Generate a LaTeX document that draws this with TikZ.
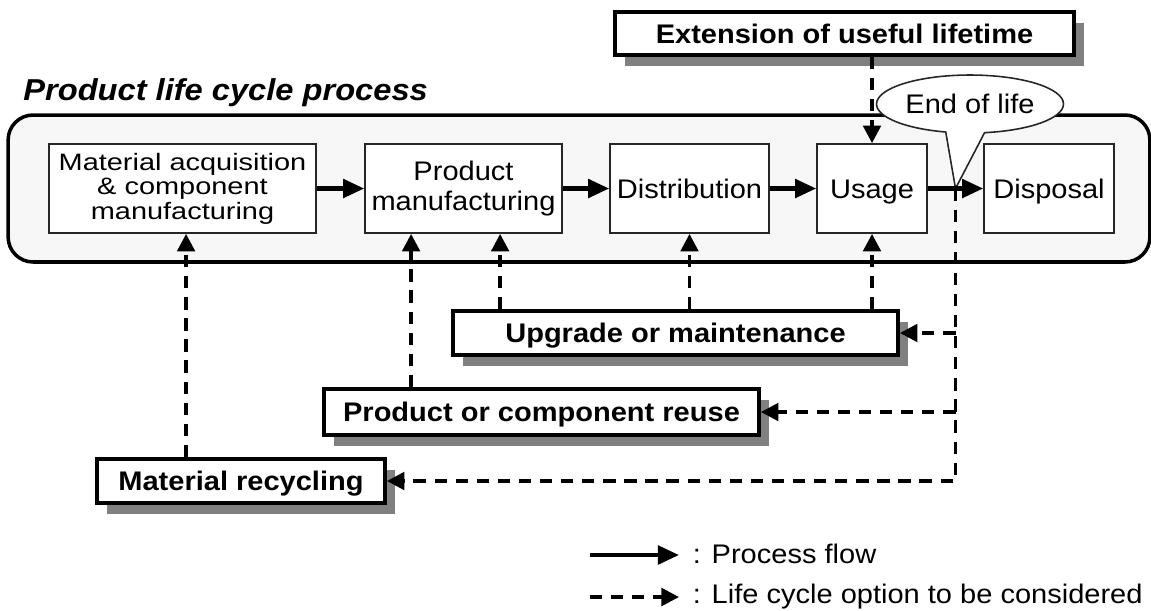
\documentclass[tikz,border=0pt]{standalone}
\usepackage{fontspec}
\setmainfont{Liberation Sans}[FakeStretch=1.08]
\newfontfamily\squeezedfont{Liberation Sans}[FakeStretch=1.22]
\usetikzlibrary{arrows.meta, shapes.callouts, shadows, calc}

\begin{document}
\begin{tikzpicture}[x=0.02cm, y=-0.02cm,
    stage/.style={draw=black!85, line width=1pt, fill=white, minimum height=1.78cm,
        inner sep=2pt, align=center, font=\fontsize{15.3}{17}\selectfont},
    oneline/.style={text height=11pt, text depth=0pt},
    option/.style={draw, line width=2.2pt, fill=white, inner sep=0pt, oneline,
        font=\fontsize{15.3}{17}\selectfont\bfseries,
        drop shadow={shadow xshift=0.2cm, shadow yshift=-0.22cm, fill=black!50, opacity=1}},
    flow/.style={line width=2.3pt, -{Triangle[length=12pt, width=10.5pt]}},
    option line/.style={line width=2pt, dash pattern=on 7pt off 5pt,
        -{Triangle[length=10pt, width=10pt]}},
    legend/.style={anchor=base west, inner xsep=0.27cm, font=\fontsize{15.3}{17}\selectfont}]
    \useasboundingbox (0,0) rectangle (1151,610);

    % Life cycle frame
    \node[draw, line width=2pt, fill=black!3, rounded corners=0.5cm,
        minimum width=22.84cm, minimum height=2.94cm] (frame) at (579,188.5) {};
    \node[anchor=base west, inner sep=0pt, font=\fontsize{17.2}{20}\selectfont\bfseries\itshape]
        (title) at (23,100) {Product life cycle process};

    % Stages
    \node[stage, minimum width=5.34cm, font=\squeezedfont\fontsize{13.5}{13.9}\selectfont]
        (mat) at (182.5,188.5) {Material acquisition\\\& component\\manufacturing};
    \node[stage, minimum width=3.94cm] (pm) at (463.5,188.5) {Product\\manufacturing};
    \node[stage, oneline, minimum width=3.18cm] (dist) at (689.5,188.5) {Distribution};
    \node[stage, oneline, minimum width=2.2cm] (usage) at (872,188.5) {Usage};
    \node[stage, oneline, minimum width=2.6cm] (disp) at (1049,188.5) {Disposal};

    % Life cycle options
    \node[option, minimum width=9.18cm, minimum height=0.86cm] (ext) at (844.5,33.5) {Extension of useful lifetime};
    \node[option, minimum width=8.9cm, minimum height=0.88cm] (upg) at (675.5,333) {Upgrade or maintenance};
    \node[option, minimum width=8.7cm, minimum height=0.92cm] (reuse) at (541.5,412) {Product or component reuse};
    \node[option, minimum width=5.76cm, minimum height=0.88cm] (recyc) at (241,481) {Material recycling};

    % End of life
    \coordinate (eoltip) at ($(usage.east)!0.5!(disp.west)$);
    \node[ellipse callout, draw=black!85, line width=0.9pt, fill=white, inner sep=0pt,
        minimum width=3.74cm, minimum height=1.16cm, callout pointer arc=24,
        callout absolute pointer={(eoltip)}, font=\fontsize{15.3}{17}\selectfont]
        (eol) at (970,104) {End of life};

    % Process flow
    \draw[flow] (mat) -- (pm);
    \draw[flow] (pm) -- (dist);
    \draw[flow] (dist) -- (usage);
    \draw[flow] (usage) -- (disp);

    % Options to be considered
    \coordinate (upgpm) at ([xshift=0.98cm]upg.north west);
    \coordinate (reusepm) at ([xshift=1.78cm]reuse.north west);
    \coordinate (recycmat) at ([xshift=1.82cm]recyc.north west);
    \draw[option line] (ext.south -| usage.north) -- (usage.north);
    \draw[option line] (upg.north -| usage.south) -- (usage.south);
    \draw[option line] (upg.north -| dist.south) -- (dist.south);
    \draw[option line] (upgpm) -- (upgpm |- pm.south);
    \draw[option line] (reusepm) -- (reusepm |- pm.south);
    \draw[option line] (recycmat) -- (recycmat |- mat.south);
    \draw[option line] (eoltip) |- (recyc.east);
    \draw[option line] (eoltip |- upg.east) -- (upg.east);
    \draw[option line] (eoltip |- reuse.east) -- (reuse.east);

    % Legend
    \coordinate (lgflow) at (590,555);
    \coordinate (lgoption) at (590,597);
    \node[legend] (flowtxt) at (679,563) {: Process flow};
    \node[legend] (optiontxt) at (679,603) {: Life cycle option to be considered};
    \draw[flow] (lgflow) -- (lgflow -| flowtxt.west);
    \draw[option line] (lgoption) -- (lgoption -| optiontxt.west);
\end{tikzpicture}
\end{document}
